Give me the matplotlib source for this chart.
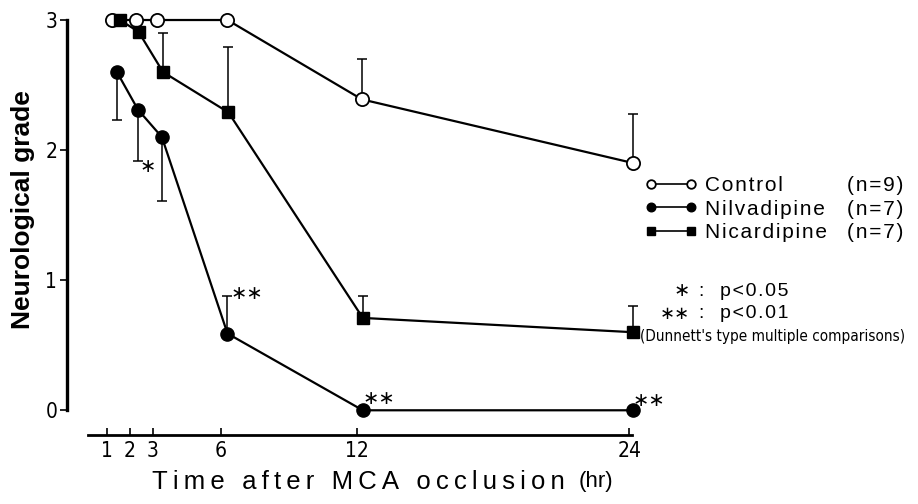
import matplotlib
matplotlib.use("Agg")
import matplotlib.pyplot as plt
import numpy as np

plt.rcParams['font.family'] = ['Liberation Sans', 'DejaVu Sans']

# data
hours = [1, 2, 3, 6, 12, 24]

control = [3.0, 3.0, 3.0, 3.0, 2.39, 1.90]
control_up = [0, 0, 0, 0, 0.31, 0.38]

nilvadipine = [2.60, 2.31, 2.10, 0.59, 0.0, 0.0]
nilvadipine_lo = [0.37, 0.39, 0.49, 0, 0, 0]
nilvadipine_up = [0, 0, 0, 0.29, 0, 0]

nicardipine = [3.0, 2.91, 2.60, 2.29, 0.71, 0.60]
nicardipine_up = [0, 0, 0.30, 0.50, 0.17, 0.20]

names = ["Control", "Nilvadipine", "Nicardipine"]
n_sizes = [9, 7, 7]

# the marks were drawn a bit right of the ticks (and nudged apart at 1-3 hr)
nudge_ctrl = np.array([0.21, 0.27, 0.19, 0.30, 0.22, 0.18])
nudge_nilv = np.array([0.43, 0.36, 0.41, 0.30, 0.26, 0.18])
nudge_nica = np.array([0.56, 0.38, 0.46, 0.34, 0.26, 0.18])


def spaced(s, sp="\u200a"):
    # old typeset figure: letters are tracked out a little
    return sp.join(s)


fig = plt.figure(figsize=(9.18, 5.04), dpi=100)
ax = fig.add_axes([67 / 918, 69 / 504, (652 - 67) / 918, (497 - 69) / 504])


def err(ax, xs, ys, lo, up):
    lo = np.array(lo)
    up = np.array(up)
    m = (lo > 0) | (up > 0)
    ax.errorbar(xs[m], np.array(ys)[m], yerr=[lo[m], up[m]], fmt="none",
                ecolor="black", elinewidth=1.1, capsize=3.5, capthick=1.1,
                zorder=2, clip_on=False)


x_ctrl = np.array(hours) + nudge_ctrl
x_nilv = np.array(hours) + nudge_nilv
x_nica = np.array(hours) + nudge_nica

err(ax, x_ctrl, control, np.zeros(6), control_up)
err(ax, x_nilv, nilvadipine, nilvadipine_lo, nilvadipine_up)
err(ax, x_nica, nicardipine, np.zeros(6), nicardipine_up)

l_ctrl, = ax.plot(x_ctrl, control, color="black", lw=1.6, marker="o", ms=9.5,
                  mfc="white", mec="black", mew=1.3, zorder=3, clip_on=False)
l_nica, = ax.plot(x_nica, nicardipine, color="black", lw=1.6, marker="s", ms=9,
                  mfc="black", mec="black", zorder=4, clip_on=False)
l_nilv, = ax.plot(x_nilv, nilvadipine, color="black", lw=1.6, marker="o", ms=9.5,
                  mfc="black", mec="black", zorder=5, clip_on=False)

# significance marks
star_font = dict(family="DejaVu Sans", fontsize=14, color="black")
ax.annotate("\u2217", xy=(x_nilv[1], nilvadipine[1] - nilvadipine_lo[1]),
            xytext=(10, -6), textcoords="offset pixels", ha="center", va="center", **star_font)
ax.annotate("\u2217\u2217", xy=(x_nilv[3], nilvadipine[3] + nilvadipine_up[3]),
            xytext=(19, 2), textcoords="offset pixels", ha="center", va="center", **star_font)
ax.annotate("\u2217\u2217", xy=(x_nilv[4], nilvadipine[4]),
            xytext=(16, 12), textcoords="offset pixels", ha="center", va="center", **star_font)
ax.annotate("\u2217\u2217", xy=(x_nilv[5], nilvadipine[5]),
            xytext=(16, 10), textcoords="offset pixels", ha="center", va="center", **star_font)

ax.set_xlim(-0.77, 25)
ax.set_ylim(-0.19, 3.1)
ax.spines["top"].set_visible(False)
ax.spines["right"].set_visible(False)
ax.spines["left"].set_bounds(0, 3)
ax.spines["left"].set_linewidth(2.4)
ax.spines["bottom"].set_bounds(0.15, 24.1)
ax.spines["bottom"].set_linewidth(2.0)

ax.set_yticks([0, 1, 2, 3])
ax.set_xticks(hours)
ax.set_xticklabels([str(h) for h in hours])
ax.tick_params(axis="y", direction="out", length=5, width=1.2, labelsize=15, pad=2)
ax.tick_params(axis="x", direction="in", length=5, width=1.2, labelsize=15, pad=4)
for t in ax.get_xticklabels() + ax.get_yticklabels():
    t.set_family("DejaVu Sans")
    t.set_stretch("condensed")

fig.text(23 / 918, 1 - 210 / 504, "Neurological grade", rotation=90,
         ha="center", va="center", fontsize=19, fontweight="bold")
t1 = fig.text(152 / 918, 1 - 482 / 504, spaced("Time after MCA occlusion", "\u2009"),
              ha="left", va="center", fontsize=18.5)
ax.annotate("(hr)", xy=(1, 0.5), xycoords=t1, xytext=(14, 0),
            textcoords="offset pixels", ha="left", va="center", fontsize=16)

leg = ax.legend([l_ctrl, l_nilv, l_nica], [spaced(nm) for nm in names], loc="upper left",
                bbox_to_anchor=(645 / 918, 1 - 176 / 504), bbox_transform=fig.transFigure,
                frameon=False, fontsize=15, handlelength=2.5, handletextpad=0.4,
                numpoints=2, labelspacing=0.22, markerscale=0.65, borderpad=0, borderaxespad=0)
for h in leg.legend_handles:
    h.set_linewidth(1.2)

# sample sizes, right aligned next to the legend rows
fig.canvas.draw()
for row, n in zip(leg.get_texts(), n_sizes):
    bb = row.get_window_extent()
    fig.text(903 / 918, (bb.y0 + bb.y1) / 2 / fig.bbox.height, spaced(f"(n={n})"),
             ha="right", va="center", fontsize=15)

fig.text(690 / 918, 1 - 291 / 504, "\u2217", fontsize=14, ha="right", va="center",
         family="DejaVu Sans")
fig.text(690 / 918, 1 - 314 / 504, "\u2217\u2217", fontsize=13, ha="right", va="center",
         family="DejaVu Sans")
fig.text(699 / 918, 1 - 291 / 504, spaced(":  p<0.05"), fontsize=14, ha="left", va="center")
fig.text(699 / 918, 1 - 314 / 504, spaced(":  p<0.01"), fontsize=14, ha="left", va="center")
dn = fig.text(640 / 918, 1 - 336 / 504, "(Dunnett's type multiple comparisons)", fontsize=11,
              ha="left", va="center", family="DejaVu Sans")
dn.set_stretch("condensed")

fig.savefig("out.png", dpi=100, facecolor="white")
